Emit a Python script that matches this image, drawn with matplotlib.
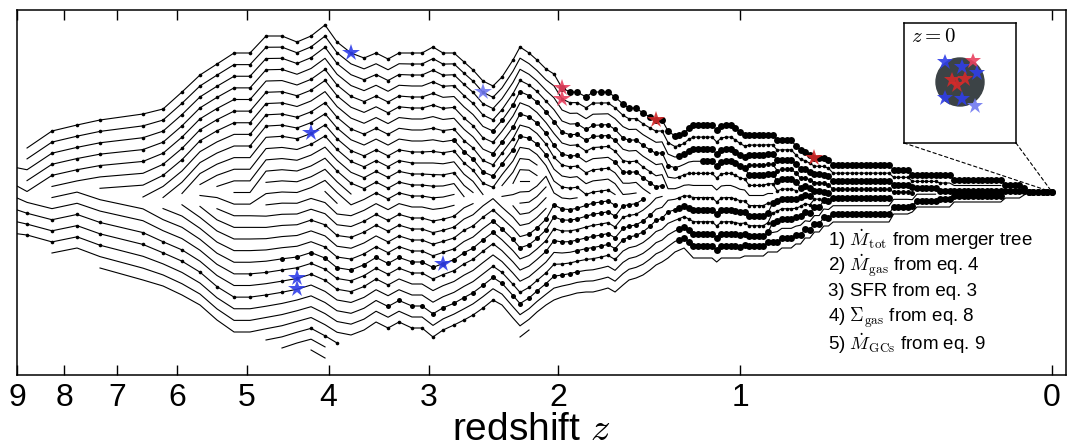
import numpy as np
import matplotlib
matplotlib.use("Agg")
import matplotlib.pyplot as plt
from matplotlib.patches import Circle, ConnectionPatch

plt.rcParams['font.family'] = ['Liberation Sans', 'DejaVu Sans']
plt.rcParams['mathtext.fontset'] = 'cm'

# ---------------- data ----------------
# snapshot positions, stored as log10(1+z)
snap_log1pz_early = [1.0135, 0.9903, 0.9662, 0.9420, 0.9198, 0.8783, 0.8589, 0.8406, 0.8232,
                     0.8068, 0.7903, 0.7749, 0.7594, 0.7440, 0.7295, 0.7159, 0.7024, 0.6908,
                     0.6773, 0.6647, 0.6531, 0.6415, 0.6309, 0.6184, 0.6087, 0.5981, 0.5884,
                     0.5778, 0.5681, 0.5594, 0.5498, 0.5401, 0.5314, 0.5208, 0.5140, 0.5053,
                     0.4976, 0.4889, 0.4812, 0.4734, 0.4657, 0.4589, 0.4502, 0.4435, 0.4357,
                     0.4290, 0.4222, 0.4145, 0.4087, 0.4019, 0.3952, 0.3884, 0.3826, 0.3768,
                     0.3710, 0.3643]
snap_log1pz_late = [0.3600, 0.3555, 0.3510, 0.3465, 0.3420, 0.3375, 0.3330, 0.3285, 0.3240,
                    0.3195, 0.3150, 0.3105, 0.3060, 0.3015, 0.2970, 0.2925, 0.2880, 0.2835,
                    0.2790, 0.2745, 0.2700, 0.2655, 0.2610, 0.2565, 0.2520, 0.2475, 0.2430,
                    0.2385, 0.2340, 0.2295, 0.2250, 0.2205, 0.2160, 0.2115, 0.2070, 0.2025,
                    0.1980, 0.1935, 0.1890, 0.1845, 0.1800, 0.1755, 0.1710, 0.1665, 0.1620,
                    0.1575, 0.1530, 0.1485, 0.1440, 0.1395, 0.1350, 0.1305, 0.1260, 0.1215,
                    0.1170, 0.1125, 0.1080, 0.1035, 0.0990, 0.0945, 0.0900, 0.0855, 0.0810,
                    0.0765, 0.0720, 0.0675, 0.0630, 0.0585, 0.0540, 0.0495, 0.0450, 0.0405,
                    0.0360, 0.0315, 0.0270, 0.0225, 0.0180, 0.0135, 0.0090, 0.0045, 0.0000]

# upper edge of the tree at each snapshot (tree units, 0 = top of panel)
upper_edge_early = [165, 148, 131, 125, 120, 114, 109, 92, 75, 64, 53, 53, 36, 36, 42, 36, 25,
                    42, 53, 58, 53, 59, 53, 53, 53, 47, 53, 53, 62, 70, 81, 86, 77, 60, 47, 53,
                    60, 69, 74, 88, 92, 92, 97, 92, 92, 92, 97, 104, 108, 108, 113, 117, 120,
                    120, 131, 136]
upper_edge_late = [(135, 1), (133, 1), (128, 1), (125, 5), (130, 1), (126, 1), (125, 2),
                   (128, 1), (132, 1), (135, 7), (140, 4), (146, 1), (150, 1), (152, 1),
                   (155, 1), (158, 3), (160, 1), (165, 13), (170, 4), (175, 9), (180, 11),
                   (185, 4), (188, 1), (192, 6)]
# lower edge of the tree
lower_edge_early = [232, 235, 253, 248, 268, 280, 286, 295, 305, 320, 332, 332, 340, 348, 343,
                    350, 358, 343, 335, 330, 322, 328, 322, 328, 328, 337, 330, 325, 320, 315,
                    308, 300, 305, 318, 337, 330, 312, 305, 300, 297, 295, 293, 292, 292, 290,
                    288, 292, 285, 280, 278, 275, 270, 265, 262, 258, 252]
lower_edge_late = [(250, 1), (248, 1), (253, 1), (258, 5), (262, 1), (258, 5), (256, 5),
                   (252, 3), (248, 3), (244, 2), (238, 2), (232, 2), (226, 2), (222, 13),
                   (214, 4), (212, 1), (207, 8), (202, 11), (198, 4), (195, 1), (192, 6)]

# progenitor branches: vertical order, first and last snapshot, stretches drawn with dots
branch_order = [0, 1, 2, 3, 4, 5, 6, 7, 8, 9, 10, 11, 12, 13, 10.5, 11.5, 12.5, 2.5,
                14, 14.4,
                30, 29, 28, 27, 26, 25, 24, 23, 22, 21, 20, 19, 18.5, 31, 32, 33, 20.5, 19.5,
                31.5, 28.5]
branch_first = [0, 0, -1, 0, -1, 1, 3, 4, 5, 6, 7, 8, 9, 11, 31, 32, 33, 70,
                7, 31,
                3, 1, -1, -1, -1, -1, 1, 5, 6, 7, 8, 11, 15, 11, 12, 14, 32, 33, 33, 75]
branch_last = [135, 124, 135, 87, 80, 75, 52, 50, 48, 45, 29, 28, 27, 17, 35, 35, 34, 105,
               26, 40,
               135, 124, 100, 85, 83, 74, 52, 49, 45, 36, 28, 26, 16, 16, 15, 15, 36, 36, 34,
               110]
branch_dots = [
    [(1, 37, 's'), (38, 54, 'l'), (55, 135, 'l')],
    [(1, 16, 's'), (22, 30, 's'), (38, 54, 's'), (55, 112, 's')],
    [(1, 16, 's'), (18, 30, 's'), (55, 135, 'l')],
    [(1, 12, 's'), (24, 36, 's'), (40, 54, 'm'), (60, 87, 'l')],
    [(1, 10, 's'), (14, 24, 's'), (30, 45, 'm'), (55, 80, 's')],
    [(5, 16, 's'), (20, 30, 's'), (40, 50, 's')],
    [(5, 12, 's'), (30, 40, 'm'), (45, 52, 'm')],
    [(10, 20, 's'), (24, 32, 's'), (36, 44, 's')],
    [(10, 16, 's'), (26, 36, 'm')],
    [(12, 30, 's'), (38, 44, 's')],
    [(14, 22, 's')], [(18, 26, 's')], [(16, 24, 's')], [], [], [], [], [(70, 105, 'm')],
    [(19, 24, 's')], [],
    [(20, 30, 's')],
    [(55, 124, 'l')],
    [(0, 3, 's'), (20, 40, 'm'), (55, 100, 'l')],
    [(0, 12, 's'), (30, 45, 's'), (55, 85, 's')],
    [(0, 6, 's'), (12, 20, 's'), (40, 54, 'm'), (55, 83, 'l')],
    [(10, 30, 's'), (36, 50, 'm'), (55, 74, 's')],
    [(12, 30, 'm'), (36, 48, 's')],
    [(15, 26, 's'), (30, 49, 'm')],
    [(20, 30, 's'), (34, 45, 'm')],
    [(14, 26, 's')], [(18, 26, 's')], [], [],
    [(14, 16, 's')], [], [], [], [], [], [],
]

# GC formation events marked on the tree (branch, snapshot)
star_branch = [0, 1, 9, 24, 23, 26, 0, 1, 0, 0]
star_snap = [17, 29, 14, 13, 13, 25, 38, 38, 51, 84]
star_color = ['#2f3ee8', '#7079f0', '#2f3ee8', '#2f3ee8', '#2f3ee8', '#2f3ee8',
              '#e8405e', '#e8405e', '#d42a2a', '#d42a2a']

# z = 0 host galaxy with its GCs (inset)
gc_x = [41, 58, 69, 73, 48, 61, 53, 41, 58, 71]
gc_y = [39, 44, 38, 50, 57, 56, 62, 75, 76, 83]
gc_color = ['#2f3ee8', '#2f3ee8', '#e8405e', '#2f3ee8', '#d42a2a', '#d42a2a', '#d42a2a',
            '#2f3ee8', '#2f3ee8', '#7079f0']

redshift_ticks = [0, 1, 2, 3, 4, 5, 6, 7, 8, 9]
steps = [r"1) $\dot{M}_{\rm tot}$ from merger tree",
         r"2) $\dot{M}_{\rm gas}$ from eq. 4",
         r"3) SFR from eq. 3",
         r"4) $\Sigma_{\rm gas}$ from eq. 8",
         r"5) $\dot{M}_{\rm GCs}$ from eq. 9"]

# ---------------- layout: stack the living branches between the edges ----------------
def expand(runs):
    return np.concatenate([np.full(n, v, float) for v, n in runs])

snap = np.array(snap_log1pz_early + snap_log1pz_late)
upper = np.concatenate([np.array(upper_edge_early, float), expand(upper_edge_late)])
lower = np.concatenate([np.array(lower_edge_early, float), expand(lower_edge_late)])
nb, ncol = len(branch_order), len(snap)
Y = np.full((nb, ncol), np.nan)
for ci in range(ncol):
    c = ci - 1
    alive = sorted([b for b in range(nb) if branch_first[b] <= c <= branch_last[b]],
                   key=lambda b: branch_order[b])
    n = len(alive)
    for r, b in enumerate(alive):
        frac = r / (n - 1) if n > 1 else 0.0
        Y[b, ci] = upper[ci] + (lower[ci] - upper[ci]) * frac

dot_size = {'s': 2.6, 'm': 3.6, 'l': 5.0}

fig = plt.figure(figsize=(10.68, 4.48), dpi=100)
ax = fig.add_axes([17 / 1068, 73 / 448, 1049 / 1068, 365 / 448])

cols_all = np.arange(ncol) - 1
for b in range(nb):
    m = ~np.isnan(Y[b])
    ax.plot(snap[m], Y[b, m], color='k', lw=0.8, zorder=2)
    for a, e, s in branch_dots[b]:
        d = m & (cols_all >= a) & (cols_all <= e)
        ax.plot(snap[d], Y[b, d], 'o', ms=dot_size[s], color='k', mew=0, zorder=3)

for b, c, col in zip(star_branch, star_snap, star_color):
    ax.plot(snap[c + 1], Y[b, c + 1], marker='*', ms=13, color=col, mew=0,
            alpha=0.9, zorder=5)

ax.set_xlim(1.0, -0.0135)
ax.set_ylim(375, 10)
ax.set_yticks([])
ax.set_xticks(np.log10(1 + np.array(redshift_ticks)))
ax.set_xticklabels([str(t) for t in redshift_ticks])
ax.tick_params(axis='x', direction='in', top=True, length=7, width=1.0,
               labelsize=23, pad=6)
for sp in ax.spines.values():
    sp.set_linewidth(1.1)
ax.set_xlabel(r"redshift $z$", fontsize=28)
ax.xaxis.set_label_coords(0.49, -0.178, transform=ax.transAxes)
ax.xaxis.label.set_va('baseline')

for i, s in enumerate(steps):
    ax.text(0.773, 0.370 - i * 0.0712, s, transform=ax.transAxes, fontsize=13.5,
            va='center', ha='left')

# inset
ins = fig.add_axes([904 / 1068, (448 - 143) / 448, 112 / 1068, 120 / 448])
ins.set_xlim(0, 112)
ins.set_ylim(120, 0)
ins.set_xticks([])
ins.set_yticks([])
for sp in ins.spines.values():
    sp.set_linewidth(1.1)
ins.add_patch(Circle((56, 59), 24, color='#3c4346', zorder=1))
for gx, gy, gcol in zip(gc_x, gc_y, gc_color):
    ins.plot(gx, gy, marker='*', ms=12, color=gcol, mew=0, alpha=0.9, zorder=3)
ins.text(7, 13, r"$z = 0$", fontsize=15, va='center', ha='left')

trunk_end = (snap[-1], Y[0, -1])
for corner in [(0, 0), (1, 0)]:
    con = ConnectionPatch(xyA=corner, coordsA=ins.transAxes, xyB=trunk_end,
                          coordsB=ax.transData, ls=(0, (3, 2.5)), lw=0.8, color='k')
    fig.add_artist(con)

fig.savefig("out.png", dpi=100)
